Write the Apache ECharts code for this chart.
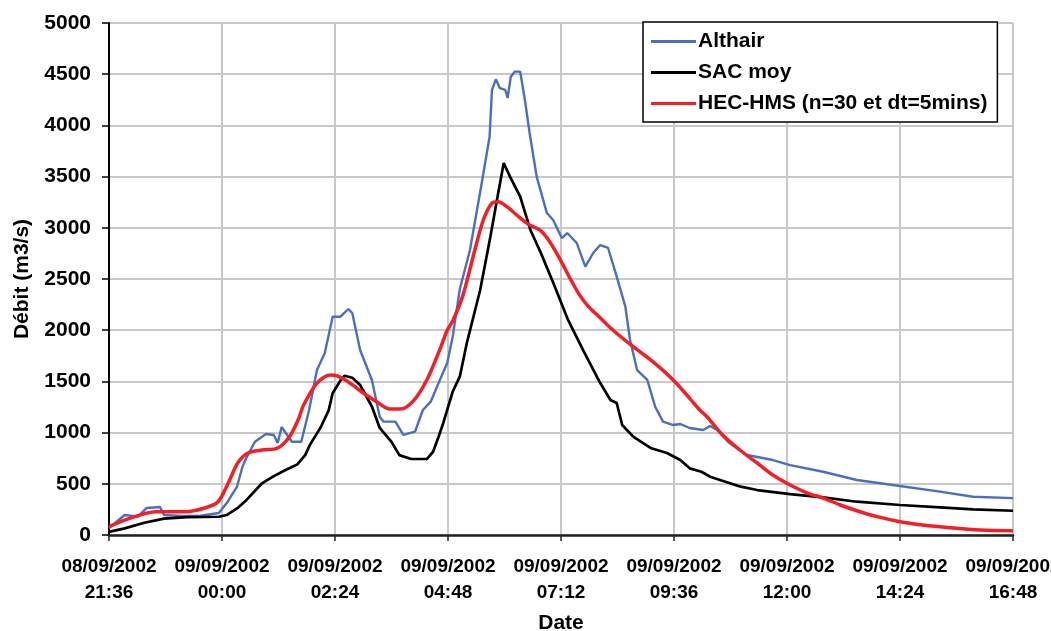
<!DOCTYPE html>
<html>
<head>
<meta charset="utf-8">
<script src="https://cdn.jsdelivr.net/npm/echarts@6/dist/echarts.min.js"></script>
<style>
  html, body { margin: 0; padding: 0; background: #fff; }
  #chart { width: 1051px; height: 631px; }
</style>
</head>
<body>
<div id="chart"></div>
<script>
// Time is in minutes after 08/09/2002 21:36; flow in m3/s.
const xTickLabels = [
  '08/09/2002\n21:36', '09/09/2002\n00:00', '09/09/2002\n02:24',
  '09/09/2002\n04:48', '09/09/2002\n07:12', '09/09/2002\n09:36',
  '09/09/2002\n12:00', '09/09/2002\n14:24', '09/09/2002\n16:48'
];
const seriesNames = ['Althair', 'SAC moy', 'HEC-HMS (n=30 et dt=5mins)'];

const althair = [
  [0,68],[20,195],[37,179],[48,264],[65,273],[70,195],[93,186],[115,186],[140,215],[150,312],
  [163,469],[170,664],[175,752],[186,911],[200,986],[210,977],[215,898],[220,1055],[233,911],[245,911],
  [255,1221],[265,1611],[275,1777],[285,2132],[295,2132],[305,2207],[310,2168],[320,1807],[335,1514],[345,1155],
  [350,1107],[365,1107],[375,977],[390,1009],[400,1221],[410,1302],[420,1484],[431,1680],[438,1937],[447,2400],
  [460,2783],[475,3438],[485,3890],[488,4346],[493,4450],[498,4365],[505,4346],[508,4268],[512,4476],[517,4525],
  [524,4525],[530,4248],[536,3926],[545,3500],[558,3144],[566,3076],[577,2900],[584,2949],[596,2852],[607,2620],
  [617,2754],[626,2832],[636,2803],[647,2523],[658,2230],[664,1904],[673,1611],[686,1514],[696,1253],[706,1107],
  [719,1074],[728,1084],[740,1045],[757,1025],[766,1064],[775,1025],[791,895],[813,781],[846,732],[868,683],
  [910,618],[953,537],[1008,478],[1059,423],[1101,374],[1152,360]
];

const sacMoy = [
  [0,30],[20,65],[45,120],[70,160],[100,175],[140,178],[150,195],[165,270],[175,340],[195,505],
  [210,575],[225,635],[240,690],[250,780],[256,880],[270,1055],[280,1220],[285,1385],[295,1510],[300,1555],
  [310,1535],[320,1465],[335,1255],[345,1045],[360,910],[370,780],[385,742],[405,742],[413,813],[420,960],
  [426,1094],[438,1400],[447,1546],[456,1875],[473,2393],[486,2913],[496,3340],[503,3633],[511,3500],[524,3304],
  [537,2979],[550,2760],[566,2465],[585,2100],[604,1807],[626,1484],[639,1318],[647,1289],[654,1074],[668,960],
  [690,850],[711,801],[728,732],[740,651],[755,618],[766,569],[805,472],[826,439],[868,400],[910,368],
  [953,325],[1008,293],[1059,270],[1101,251],[1152,237]
];

const hecHms = [
  [0,81],[20,146],[60,228],[97,228],[122,264],[139,325],[152,508],[164,703],[177,801],[195,830],
  [215,850],[230,960],[241,1123],[248,1270],[265,1484],[282,1563],[291,1553],[307,1484],[324,1387],[341,1302],
  [358,1230],[371,1230],[387,1302],[405,1514],[422,1820],[431,2000],[438,2090],[451,2340],[464,2718],[477,3076],
  [488,3242],[496,3255],[507,3206],[524,3096],[536,3027],[549,2979],[562,2860],[575,2690],[588,2500],[600,2340],
  [611,2230],[622,2150],[642,2002],[668,1839],[693,1693],[719,1514],[740,1335],[753,1220],[762,1155],[782,977],
  [804,830],[826,703],[846,586],[868,488],[890,410],[910,361],[932,293],[953,237],[979,179],[1008,130],
  [1037,98],[1072,71],[1110,49],[1152,42]
];

const colors = ['#4a6ec0', '#000000', '#f41f26'];
const gridColor = '#c8c8c8';
const textFont = 'Liberation Sans';

const chart = echarts.init(document.getElementById('chart'), null, { renderer: 'canvas' });

chart.setOption({
  animation: false,
  backgroundColor: '#ffffff',
  grid: { left: 109, right: 38, top: 23, bottom: 96, containLabel: false, outerBoundsMode: 'none' },
  legend: {
    orient: 'vertical',
    left: 643,
    top: 22,
    padding: [9, 10, 8, 8],
    itemGap: 10,
    itemWidth: 45,
    itemHeight: 3,
    icon: 'rect',
    backgroundColor: '#ffffff',
    borderColor: '#000000',
    borderWidth: 1.5,
    borderRadius: 0,
    textStyle: { color: '#000', fontFamily: textFont, fontWeight: 'bold', fontSize: 21, padding: [0, 0, 0, -3] },
    data: seriesNames
  },
  xAxis: {
    type: 'value',
    min: 0,
    max: 1152,
    interval: 144,
    name: 'Date',
    nameLocation: 'middle',
    nameGap: 78,
    nameTextStyle: { color: '#000', fontFamily: textFont, fontWeight: 'bold', fontSize: 21 },
    axisLine: { show: true, onZero: false, lineStyle: { color: '#222', width: 2.5 } },
    axisTick: { show: true, length: 6, lineStyle: { color: '#222', width: 1.5 } },
    splitLine: { show: true, lineStyle: { color: gridColor, width: 2 } },
    axisLabel: {
      color: '#000',
      fontFamily: textFont,
      fontWeight: 'bold',
      fontSize: 19,
      lineHeight: 26,
      margin: 19,
      showMinLabel: true,
      showMaxLabel: true,
      hideOverlap: false,
      formatter: function (v) { return xTickLabels[Math.round(v / 144)] || ''; }
    }
  },
  yAxis: {
    type: 'value',
    min: 0,
    max: 5000,
    interval: 500,
    name: 'Débit (m3/s)',
    nameLocation: 'middle',
    nameGap: 76,
    nameTextStyle: { color: '#000', fontFamily: textFont, fontWeight: 'bold', fontSize: 21 },
    axisLine: { show: true, lineStyle: { color: '#000', width: 2 } },
    axisTick: { show: true, length: 7, lineStyle: { color: '#000', width: 1.5 } },
    splitLine: { show: true, lineStyle: { color: gridColor, width: 2 } },
    axisLabel: {
      color: '#000',
      fontFamily: textFont,
      fontWeight: 'bold',
      fontSize: 21,
      margin: 18,
      formatter: function (v) { return String(v); }
    }
  },
  series: [
    { name: seriesNames[0], type: 'line', data: althair, showSymbol: false, color: colors[0],
      lineStyle: { color: colors[0], width: 2.4 }, z: 2 },
    { name: seriesNames[1], type: 'line', data: sacMoy, showSymbol: false, color: colors[1],
      lineStyle: { color: colors[1], width: 2.7 }, z: 3 },
    { name: seriesNames[2], type: 'line', data: hecHms, showSymbol: false, smooth: 0.3, color: colors[2],
      lineStyle: { color: colors[2], width: 3.5 }, z: 4 }
  ]
});
</script>
</body>
</html>
